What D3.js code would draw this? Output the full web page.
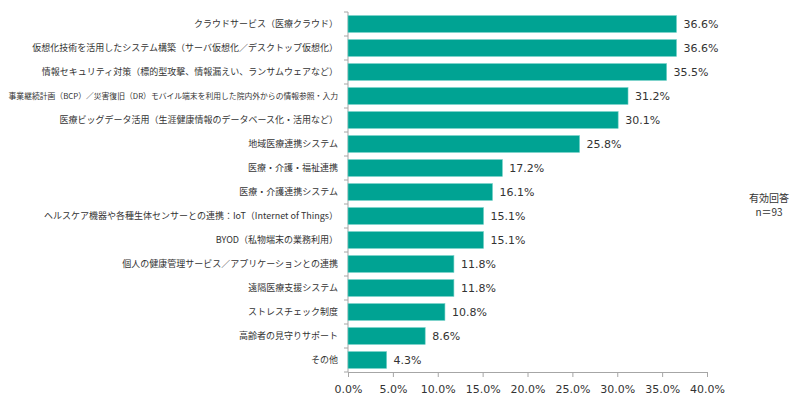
<!DOCTYPE html>
<html>
<head>
<meta charset="utf-8">
<script src="https://cdn.jsdelivr.net/npm/d3@7"></script>
<style>
  body { margin: 0; background: #fff; }
  svg { display: block; overflow: visible; }
</style>
</head>
<body>
<svg width="800" height="410"></svg>
<script>
// Data
const categories = [
  'クラウドサービス（医療クラウド）',
  '仮想化技術を活用したシステム構築（サーバ仮想化／デスクトップ仮想化）',
  '情報セキュリティ対策（標的型攻撃、情報漏えい、ランサムウェアなど）',
  '事業継続計画（BCP）／災害復旧（DR）モバイル端末を利用した院内外からの情報参照・入力',
  '医療ビッグデータ活用（生涯健康情報のデータベース化・活用など）',
  '地域医療連携システム',
  '医療・介護・福祉連携',
  '医療・介護連携システム',
  'ヘルスケア機器や各種生体センサーとの連携：IoT（Internet of Things）',
  'BYOD（私物端末の業務利用）',
  '個人の健康管理サービス／アプリケーションとの連携',
  '遠隔医療支援システム',
  'ストレスチェック制度',
  '高齢者の見守りサポート',
  'その他'
];
const values = [36.6, 36.6, 35.5, 31.2, 30.1, 25.8, 17.2, 16.1, 15.1, 15.1, 11.8, 11.8, 10.8, 8.6, 4.3];
const xTicks = [0, 5, 10, 15, 20, 25, 30, 35, 40];
const noteLines = ['有効回答', 'n＝93'];

const margin = { top: 12, left: 348, right: 93, bottom: 38 };
const width = 800, height = 410;
const innerWidth = width - margin.left - margin.right;
const innerHeight = height - margin.top - margin.bottom;

const svg = d3.select('svg');
const g = svg.append('g').attr('transform', `translate(${margin.left},${margin.top})`);

const x = d3.scaleLinear().domain([0, 40]).range([0, innerWidth]);
const y = d3.scaleBand().domain(categories).range([0, innerHeight]).paddingInner(0.3).paddingOuter(0.15);

const axisColor = '#a6a6a6';
const textColor = '#333';
const numFont = '"DejaVu Sans", Verdana, sans-serif';
const jpFont = '"Noto Sans CJK JP", sans-serif';

// x axis
const xAxisG = g.append('g')
  .attr('transform', `translate(0,${innerHeight})`)
  .call(d3.axisBottom(x).tickValues(xTicks).tickSize(5).tickPadding(8)
    .tickFormat(d => d.toFixed(1) + '%'));
xAxisG.attr('font-family', numFont).attr('font-size', 11);
xAxisG.select('.domain').attr('stroke', axisColor);
xAxisG.selectAll('.tick line').attr('stroke', axisColor);
xAxisG.selectAll('.tick text')
  .attr('fill', textColor)
  .attr('dy', null)
  .attr('y', 21);

// y axis: line with ticks at band boundaries
const step = y.step();
const bounds = d3.range(categories.length + 1).map(i => i * step);
g.append('line')
  .attr('x1', 0).attr('x2', 0).attr('y1', 0).attr('y2', innerHeight)
  .attr('stroke', axisColor);
g.selectAll('.ytick').data(bounds).join('line')
  .attr('class', 'ytick')
  .attr('x1', -4).attr('x2', 0)
  .attr('y1', d => d).attr('y2', d => d)
  .attr('stroke', axisColor);

// category labels, long ones shrunk to fit the left margin
const maxLabelWidth = 330;
g.selectAll('.cat').data(categories).join('text')
  .attr('class', 'cat')
  .attr('x', -10)
  .attr('y', d => y(d) + y.bandwidth() / 2 + 3.2)
  .attr('text-anchor', 'end')
  .attr('fill', textColor)
  .attr('font-family', jpFont)
  .attr('font-size', 9)
  .text(d => d)
  .each(function() {
    const w = this.getComputedTextLength();
    if (w > maxLabelWidth) {
      d3.select(this).attr('font-size', +(9 * maxLabelWidth / w).toFixed(2));
    }
  });

// bars
g.selectAll('.bar').data(values).join('rect')
  .attr('class', 'bar')
  .attr('x', 0)
  .attr('y', (d, i) => y(categories[i]))
  .attr('width', d => x(d))
  .attr('height', y.bandwidth())
  .attr('fill', '#00a393')
  .attr('stroke', '#6fcfc6')
  .attr('stroke-width', 0.6);

// value labels
g.selectAll('.val').data(values).join('text')
  .attr('class', 'val')
  .attr('x', d => x(d) + 7)
  .attr('y', (d, i) => y(categories[i]) + y.bandwidth() / 2 + 4)
  .attr('fill', textColor)
  .attr('font-family', numFont)
  .attr('font-size', 11)
  .text(d => d.toFixed(1) + '%');

// note
svg.append('g').selectAll('text').data(noteLines).join('text')
  .attr('x', 769)
  .attr('y', (d, i) => 202 + i * 14)
  .attr('text-anchor', 'middle')
  .attr('fill', textColor)
  .attr('font-family', jpFont)
  .attr('font-size', 10)
  .text(d => d);
</script>
</body>
</html>
